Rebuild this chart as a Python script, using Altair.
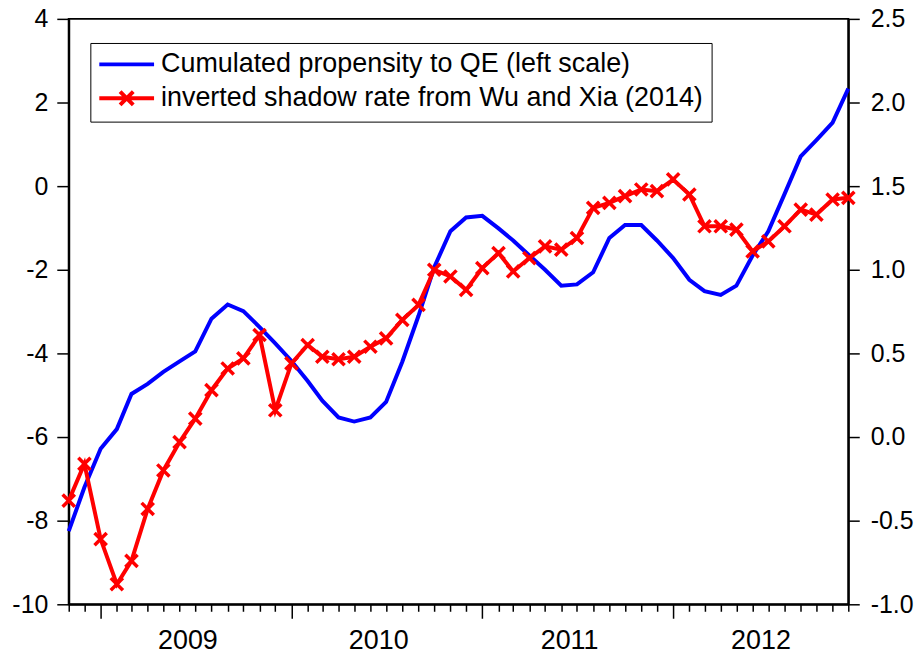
import altair as alt
import pandas as pd

# ---------------- data ----------------
months = pd.date_range("2008-11-01", periods=50, freq="MS").strftime("%Y-%m-%d").tolist()

qe_propensity = [-8.25, -7.20, -6.28, -5.81, -4.97, -4.73, -4.44, -4.19, -3.95, -3.17,
                 -2.83, -2.99, -3.37, -3.76, -4.18, -4.66, -5.13, -5.53, -5.63, -5.53,
                 -5.16, -4.20, -3.10, -1.94, -1.08, -0.75, -0.71, -1.01, -1.30, -1.66,
                 -2.00, -2.38, -2.35, -2.06, -1.24, -0.93, -0.93, -1.30, -1.72, -2.24,
                 -2.51, -2.60, -2.38, -1.66, -1.08, -0.19, 0.71, 1.10, 1.52, 2.33]

shadow_inverted = [-0.38, -0.16, -0.61, -0.88, -0.74, -0.43, -0.20, -0.03, 0.11, 0.28,
                   0.41, 0.47, 0.61, 0.16, 0.44, 0.55, 0.48, 0.465, 0.48, 0.54,
                   0.59, 0.70, 0.79, 1.00, 0.96, 0.88, 1.01, 1.10, 0.99, 1.07,
                   1.14, 1.12, 1.19, 1.37, 1.40, 1.44, 1.48, 1.47, 1.54, 1.45,
                   1.26, 1.26, 1.24, 1.11, 1.17, 1.26, 1.36, 1.33, 1.42, 1.43]

series_names = ["Cumulated propensity to QE (left scale)",
                "inverted shadow rate from Wu and Xia (2014)"]
series_colors = ["#0000ff", "#ff0000"]

left_ticks = [-10, -8, -6, -4, -2, 0, 2, 4]
right_ticks = [-1.0, -0.5, 0.0, 0.5, 1.0, 1.5, 2.0, 2.5]
year_labels = [2009, 2010, 2011, 2012]

FONT = "Liberation Sans"

df = pd.DataFrame({"month": months, "qe": qe_propensity, "shadow": shadow_inverted})
leg_df = pd.DataFrame({"series": series_names})

# ---------------- axes ----------------
tick_values = [alt.DateTime(year=int(m[:4]), month=int(m[5:7]), date=1, utc=True) for m in months]
tick_values += [alt.DateTime(year=y, month=6, date=16, utc=True) for y in year_labels]

common_axis = dict(grid=False, domainColor="black", domainWidth=2, tickColor="black",
                   tickWidth=1.5, labelColor="black", labelFont=FONT, ticks=True)

x_axis = alt.Axis(
    values=tick_values,
    title=None,
    labelExpr="utcdate(datum.value) == 16 ? utcFormat(datum.value, '%Y') : ''",
    labelOverlap=False,
    labelFlush=False,
    labelFontSize=27,
    labelPadding=23,
    tickSize={"condition": [{"test": "utcdate(datum.value) != 1", "value": 0},
                            {"test": "utcmonth(datum.value) == 0", "value": 14}],
              "value": 7},
    tickOpacity={"condition": {"test": "utcdate(datum.value) != 1", "value": 0}, "value": 1},
    **common_axis,
)

x_enc = alt.X(
    "month:T",
    scale=alt.Scale(type="utc", nice=False,
                    domain=[alt.DateTime(year=2008, month=11, date=1, utc=True),
                            alt.DateTime(year=2012, month=12, date=1, utc=True)]),
    axis=x_axis,
)

left_axis = alt.Axis(values=left_ticks, title=None, orient="left", tickSize=12, labelPadding=9,
                     labelFontSize=25,
                     labelExpr="(datum.value < 0 ? '-' : '') + format(abs(datum.value), 'd')",
                     **common_axis)
right_axis = alt.Axis(values=right_ticks, title=None, orient="right", tickSize=11, labelPadding=11,
                      labelFontSize=25,
                      labelExpr="(datum.value < 0 ? '-' : '') + format(abs(datum.value), '.1f')",
                      **common_axis)

right_scale = alt.Scale(domain=[-1.0, 2.5], nice=False, zero=False)

# ---------------- layers ----------------
blue = alt.Chart(df).mark_line(color=series_colors[0], strokeWidth=4).encode(
    x=x_enc,
    y=alt.Y("qe:Q", scale=alt.Scale(domain=[-10, 4], nice=False, zero=False), axis=left_axis),
)

red_line = alt.Chart(df).mark_line(color=series_colors[1], strokeWidth=4).encode(
    x=x_enc,
    y=alt.Y("shadow:Q", scale=right_scale, axis=right_axis),
)
red_pts = alt.Chart(df).mark_point(
    shape="M-1,-1L1,1M-1,1L1,-1", size=150, strokeWidth=3.5,
    color=series_colors[1], filled=False, opacity=1,
).encode(
    x=x_enc,
    y=alt.Y("shadow:Q", scale=right_scale, axis=right_axis),
)
red = alt.layer(red_line, red_pts)

leg = alt.Legend(
    orient="none", legendX=21.7, legendY=24.2, title=None, direction="vertical",
    labelFont=FONT, labelFontSize=27, labelColor="black", labelLimit=1000,
    symbolSize=484, symbolStrokeWidth=4, symbolOffset=15, labelOffset=21,
    padding=8, rowPadding=5, strokeColor="black", fillColor="white",
)
legend_layer = alt.Chart(leg_df).mark_point(filled=False, strokeWidth=4, opacity=1).encode(
    color=alt.Color("series:N", scale=alt.Scale(domain=series_names, range=series_colors), legend=leg),
    shape=alt.Shape("series:N",
                    scale=alt.Scale(domain=series_names,
                                    range=["M-2.5,0H2.5",
                                           "M-2.5,0H2.5M-0.6,-0.6L0.6,0.6M-0.6,0.6L0.6,-0.6"]),
                    legend=leg),
).transform_filter("false")

chart = alt.layer(blue, red, legend_layer).resolve_scale(y="independent").properties(
    width=783, height=588,
    autosize=alt.AutoSizeParams(type="none"),
    padding={"left": 61, "top": 9.5, "right": 68, "bottom": 50},
    background="white",
).configure_view(
    stroke="black", strokeWidth=2
).configure_axis(
    grid=False, domainColor="black", domainWidth=2, tickColor="black", tickWidth=1.5,
    labelColor="black",
)

chart.save("out.html", embed_options={"renderer": "svg", "actions": False})
